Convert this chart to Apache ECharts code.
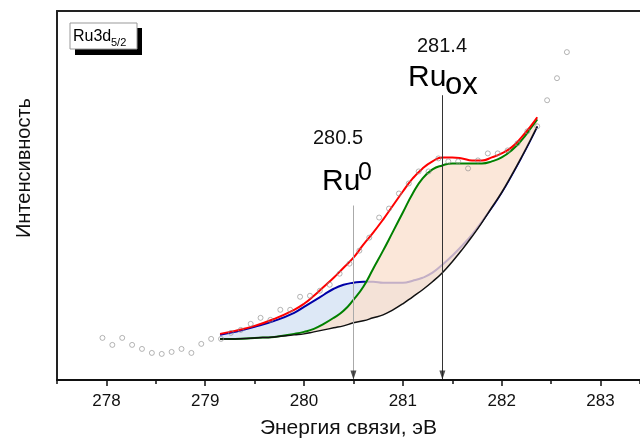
<!DOCTYPE html>
<html><head><meta charset="utf-8">
<script src="https://cdn.jsdelivr.net/npm/echarts@6/dist/echarts.min.js"></script>
<style>html,body{margin:0;padding:0;background:#fff}#c{width:640px;height:439px}</style>
</head><body><div id="c"></div>
<script>
// Measured XPS points (binding energy, eV / intensity, a.u.)
const pointsX = [277.96,278.06,278.16,278.26,278.36,278.46,278.56,278.66,278.76,278.86,278.96,279.06,279.16,279.26,279.36,279.46,279.56,279.66,279.76,279.86,279.96,280.06,280.16,280.26,280.36,280.46,280.56,280.66,280.76,280.86,280.96,281.06,281.16,281.26,281.36,281.46,281.56,281.66,281.76,281.86,281.96,282.06,282.16,282.26,282.36,282.46,282.56,282.66];
const pointsY = [42,35,42,35,31,27,26,28,31,27,36,41,41,47,50,56,62,60,70,70,83,84,89,95,106,116,129,142,162,171,186,196,208,208,221,218,218,211,219,226,226,229,236,248,253,279,301,327];

// Fit curves
const curveX = [279.15,279.3,279.5,279.7,279.9,280.0,280.1,280.2,280.3,280.4,280.5,280.6,280.7,280.8,280.9,281.0,281.1,281.2,281.3,281.4,281.5,281.6,281.7,281.8,281.9,282.0,282.1,282.2,282.3,282.36];
const background = [41,41,42,43,45,46,48,50,52,54,57,59,62,65,70,76,83,90,98,107,118,130,143,157,172,187,204,222,241,253];
const ru0Peak    = [45,48,53,59,67,73,79,85,91,95,97,98,98,97,97,97,99,102,107,115,124,134,145,158,172,187,204,222,241,253];
const ruoxPeak   = [41,41,42,43,46,48,51,56,62,69,80,93,111,129,148,167,186,201,210,214,216,216,216,216,218,222,229,239,252,260];
const envelope   = [46,49,54,61,70,76,84,93,102,112,122,135,147,160,174,188,201,211,218,222,222,221,219,219,222,226,232,242,254,262];

// Peak markers
const peakPositions = [280.5, 281.4];
const peakArrowTops = [174, 284];
const peakColors = ['#aaaaaa', '#333333'];

// Axis ticks
const majorTicks = [278, 279, 280, 281, 282, 283];
const xMin = 277.5, xMax = 283.4;

const FONT = '"Liberation Sans", Arial, sans-serif';
function pairs(xs, ys) { return xs.map((x, i) => [x, ys[i]]); }

function bandSeries(name, top, bottom, fill, opacity, z) {
  return {
    name: name, type: 'custom', coordinateSystem: 'cartesian2d', silent: true, z: z,
    data: [[curveX[0], bottom[0]]],
    renderItem: function (params, api) {
      const pts = [];
      for (let i = 0; i < curveX.length; i++) pts.push(api.coord([curveX[i], top[i]]));
      for (let i = curveX.length - 1; i >= 0; i--) pts.push(api.coord([curveX[i], bottom[i]]));
      return {type: 'polygon', shape: {points: pts}, style: {fill: fill, opacity: opacity}};
    }
  };
}

const chart = echarts.init(document.getElementById('c'), null, {renderer: 'canvas'});
const gridRect = {left: 57, top: 11, right: 0, bottom: 59, outerBoundsMode: 'none', containLabel: false};

const option = {
  animation: false,
  grid: [
    Object.assign({show: false}, gridRect),
    Object.assign({show: false}, gridRect)
  ],
  xAxis: [
    {
      type: 'value', gridIndex: 0, min: xMin, max: xMax, interval: 0.5, z: 10,
      axisLine: {show: true, lineStyle: {color: '#111', width: 2}},
      axisTick: {show: true, length: 4, lineStyle: {color: '#111', width: 1.5}},
      axisLabel: {show: false},
      splitLine: {show: false}
    },
    {
      type: 'value', gridIndex: 1, min: xMin, max: xMax, z: 10, position: 'bottom',
      name: 'Энергия связи, эВ', nameLocation: 'middle', nameGap: 38,
      nameTextStyle: {fontFamily: FONT, fontSize: 21, color: '#111'},
      axisLine: {show: false},
      axisTick: {show: true, length: 6, customValues: majorTicks, lineStyle: {color: '#111', width: 1.5}},
      axisLabel: {show: true, customValues: majorTicks, fontFamily: FONT, fontSize: 17, color: '#111', margin: 13},
      splitLine: {show: false}
    },
    {
      type: 'value', gridIndex: 1, min: xMin, max: xMax, z: 10, position: 'top',
      axisLine: {show: true, lineStyle: {color: '#222', width: 2}},
      axisTick: {show: false}, axisLabel: {show: false}, splitLine: {show: false}
    }
  ],
  yAxis: [
    {type: 'value', gridIndex: 0, min: 0, max: 368, z: 10,
     axisLine: {show: true, lineStyle: {color: '#222', width: 2}},
     axisTick: {show: false}, axisLabel: {show: false}, splitLine: {show: false}},
    {type: 'value', gridIndex: 1, min: 0, max: 368, show: false}
  ],
  graphic: [
    {type: 'text', x: 24, y: 168, rotation: Math.PI / 2,
     style: {text: 'Интенсивность', font: '20px ' + FONT, fill: '#111', align: 'center', verticalAlign: 'middle'}},
    {type: 'rect', shape: {x: 75, y: 28, width: 67, height: 27}, style: {fill: '#000'}},
    {type: 'rect', shape: {x: 70, y: 23, width: 67, height: 26}, style: {fill: '#fff', stroke: '#999', lineWidth: 1}},
    {type: 'text', x: 73, y: 37, style: {text: 'Ru3d', font: '16px ' + FONT, fill: '#000', verticalAlign: 'middle'}},
    {type: 'text', x: 111, y: 43, style: {text: '5/2', font: '11px ' + FONT, fill: '#000', verticalAlign: 'middle'}},
    {type: 'text', x: 338, y: 138, style: {text: '280.5', font: '20px ' + FONT, fill: '#111', align: 'center', verticalAlign: 'middle'}},
    {type: 'text', x: 322, y: 182, style: {text: 'Ru', font: '30px ' + FONT, fill: '#000', verticalAlign: 'middle'}},
    {type: 'text', x: 358, y: 173, style: {text: '0', font: '25px ' + FONT, fill: '#000', verticalAlign: 'middle'}},
    {type: 'text', x: 442, y: 46, style: {text: '281.4', font: '20px ' + FONT, fill: '#111', align: 'center', verticalAlign: 'middle'}},
    {type: 'text', x: 408, y: 78, style: {text: 'Ru', font: '30px ' + FONT, fill: '#000', verticalAlign: 'middle'}},
    {type: 'text', x: 445, y: 85, style: {text: 'ox', font: '31px ' + FONT, fill: '#000', verticalAlign: 'middle'}}
  ],
  series: [
    bandSeries('Ru0 fill', ru0Peak, background, '#dde8f6', 1, 1),
    {name: 'Ru0', type: 'line', smooth: true, symbol: 'none', z: 2, data: pairs(curveX, ru0Peak),
     lineStyle: {color: '#0000a8', width: 2}},
    bandSeries('Ruox fill', ruoxPeak, background, '#fae0ce', 0.78, 3),
    {name: 'Ruox', type: 'line', smooth: true, symbol: 'none', z: 4, data: pairs(curveX, ruoxPeak),
     lineStyle: {color: '#008000', width: 2}},
    {name: 'Envelope', type: 'line', smooth: true, symbol: 'none', z: 4, data: pairs(curveX, envelope),
     lineStyle: {color: '#ff0000', width: 2}},
    {name: 'Background', type: 'line', smooth: true, symbol: 'none', z: 4, data: pairs(curveX, background),
     lineStyle: {color: '#111', width: 1.5}},
    {name: 'Peaks', type: 'scatter', data: pairs(peakPositions, peakPositions.map(() => 0)),
     symbol: 'triangle', symbolRotate: 180, symbolSize: [6, 9], symbolOffset: [0, -5],
     itemStyle: {color: '#222'}, z: 5,
     markLine: {silent: true, symbol: 'none', label: {show: false},
       data: peakPositions.map((p, i) => [
         {coord: [p, peakArrowTops[i]], lineStyle: {color: peakColors[i], width: 1, type: 'solid'}},
         {coord: [p, 0]}
       ])}},
    {name: 'Data', type: 'scatter', data: pairs(pointsX, pointsY), symbol: 'circle', symbolSize: 5,
     itemStyle: {color: 'rgba(255,255,255,0)', borderColor: '#8a8a8a', borderWidth: 0.8}, z: 6}
  ]
};
chart.setOption(option);
</script>
</body></html>
